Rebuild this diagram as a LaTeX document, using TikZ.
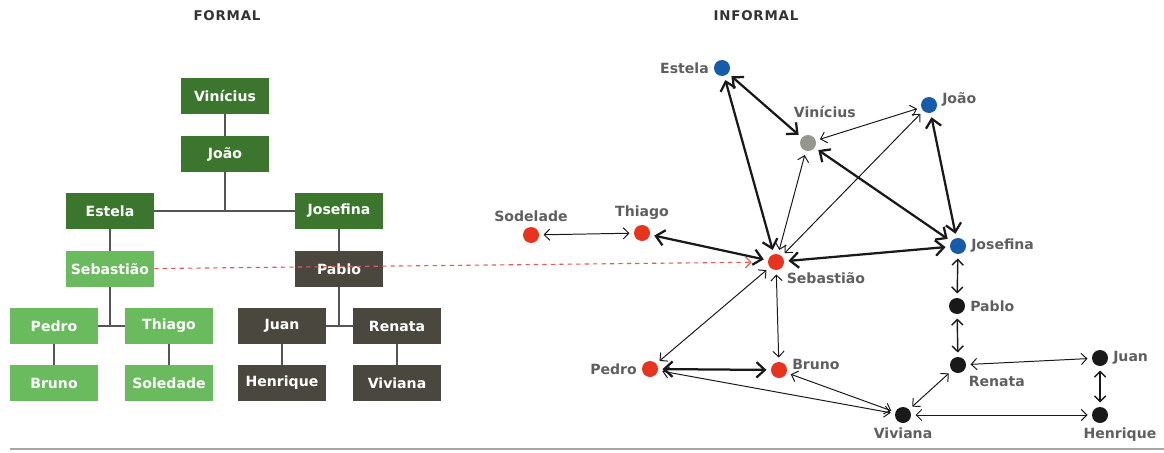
\documentclass[tikz,border=0pt]{standalone}
\usepackage{fontspec}
\setmainfont{DejaVu Sans}
\newfontfamily\titlefont[LetterSpace=6]{DejaVu Sans}
\usetikzlibrary{arrows.meta}

\definecolor{darkgreen}{RGB}{60,118,46}
\definecolor{lightgreen}{RGB}{106,186,94}
\definecolor{darkgrey}{RGB}{74,72,62}
\definecolor{treegrey}{RGB}{85,85,85}
\definecolor{dotred}{RGB}{232,52,30}
\definecolor{dotblue}{RGB}{22,92,170}
\definecolor{dotgrey}{RGB}{150,150,140}
\definecolor{dotblack}{RGB}{25,25,25}
\definecolor{labelgrey}{RGB}{95,95,95}
\definecolor{dashred}{RGB}{228,90,80}

\begin{document}
\begin{tikzpicture}[x=0.025cm, y=-0.025cm]
		\tikzset{box/.style = {minimum width=2.2cm, minimum height=0.9cm, inner sep=0pt, text=white, font=\bfseries\fontsize{10}{12}\selectfont}}
		\tikzset{dkbox/.style = {box, fill=darkgreen}}
		\tikzset{ltbox/.style = {box, fill=lightgreen}}
		\tikzset{gybox/.style = {box, fill=darkgrey}}
		\tikzset{tree/.style = {treegrey, line width=1pt}}
		\tikzset{dot/.style = {circle, minimum size=0.4cm, inner sep=0pt}}
		\tikzset{every label/.style = {text=labelgrey, font=\bfseries\fontsize{10}{12}\selectfont}}
		\tikzset{weak/.style = {{Straight Barb[length=4pt,width=8pt]}-{Straight Barb[length=4pt,width=8pt]}, line width=0.7pt, dotblack, shorten <=3pt, shorten >=3pt}}
		\tikzset{strong/.style = {{Straight Barb[length=6pt,width=11pt]}-{Straight Barb[length=6pt,width=11pt]}, line width=1.6pt, dotblack, shorten <=3pt, shorten >=3pt}}
		\tikzset{title/.style = {text=black!80, font=\titlefont\bfseries\fontsize{9.5}{11}\selectfont}}
		
		\useasboundingbox (0,0) rectangle (1164,453);
		
		% formal chart
		\node[title] (formal) at (227,16) {FORMAL};
		\node[dkbox] (vinF) at (225, 96) {Vinícius};
		\node[dkbox] (joaF) at (225,154) {João};
		\node[dkbox] (estF) at (110,211) {Estela};
		\node[dkbox] (josF) at (339,211) {Josefina};
		\node[ltbox] (sebF) at (110,269) {Sebastião};
		\node[gybox] (pabF) at (339,269) {Pablo};
		\node[ltbox] (pedF) at ( 54,326) {Pedro};
		\node[ltbox] (thiF) at (169,326) {Thiago};
		\node[gybox] (juaF) at (282,326) {Juan};
		\node[gybox] (renF) at (397,326) {Renata};
		\node[ltbox] (bruF) at ( 54,383) {Bruno};
		\node[ltbox] (solF) at (169,383) {Soledade};
		\node[gybox] (henF) at (282,383) {Henrique};
		\node[gybox] (vivF) at (397,383) {Viviana};
		
		\draw[tree] (vinF) -- (joaF);
		\draw[tree] (joaF) -- (joaF |- estF);
		\draw[tree] (estF) -- (josF);
		\draw[tree] (estF) -- (sebF);
		\draw[tree] (josF) -- (pabF);
		\draw[tree] (sebF) -- (sebF |- pedF);
		\draw[tree] (pedF) -- (thiF);
		\draw[tree] (pabF) -- (pabF |- juaF);
		\draw[tree] (juaF) -- (renF);
		\draw[tree] (pedF) -- (bruF);
		\draw[tree] (thiF) -- (solF);
		\draw[tree] (juaF) -- (henF);
		\draw[tree] (renF) -- (vivF);
		
		% informal network
		\node[title] (informal) at (756,16) {INFORMAL};
		\node[dot, fill=dotblue, label=left:Estela] (est) at (722, 68) {};
		\node[dot, fill=dotgrey, label={[xshift=0.42cm, yshift=0.3cm]above:Vinícius}] (vin) at (808,143) {};
		\node[dot, fill=dotblue, label={[yshift=0.15cm]right:João}] (joa) at (929,105) {};
		\node[dot, fill=dotred, label=above:Sodelade] (sod) at (531,235) {};
		\node[dot, fill=dotred, label=above:Thiago] (thi) at (642,233) {};
		\node[dot, fill=dotblue, label=right:Josefina] (jos) at (958,246) {};
		\node[dot, fill=dotred, label=below right:Sebastião] (seb) at (776,262) {};
		\node[dot, fill=dotred, label=left:Pedro] (ped) at (650,369) {};
		\node[dot, fill=dotred, label={[yshift=0.15cm]right:Bruno}] (bru) at (779,370) {};
		\node[dot, fill=dotblack, label=right:Pablo] (pab) at (957,306) {};
		\node[dot, fill=dotblack, label=below right:Renata] (ren) at (958,365) {};
		\node[dot, fill=dotblack, label=right:Juan] (jua) at (1100,358) {};
		\node[dot, fill=dotblack, label=below:Viviana] (viv) at (903,415) {};
		\node[dot, fill=dotblack, label={[xshift=0.5cm]below:Henrique}] (hen) at (1100,415) {};
		
		\draw[strong] (est) to (seb);
		\draw[strong] (est) to (vin);
		\draw[strong] (thi) to (seb);
		\draw[strong] (vin) to (jos);
		\draw[strong] (joa) to (jos);
		\draw[strong] (seb) to (jos);
		\draw[strong] (ped) to (bru);
		\draw[weak] (sod) to (thi);
		\draw[weak] (vin) to (joa);
		\draw[weak] (seb) to (vin);
		\draw[weak] (seb) to (joa);
		\draw[weak] (seb) to (ped);
		\draw[weak] (seb) to (bru);
		\draw[weak] (viv) to (ped);
		\draw[weak] (viv) to (bru);
		\draw[weak, line width=1pt] (jos) to (pab);
		\draw[weak, line width=1pt] (pab) to (ren);
		\draw[weak] (ren) to (jua);
		\draw[weak] (ren) to (viv);
		\draw[weak, line width=1pt] (jua) to (hen);
		\draw[weak] (viv) to (hen);
		
		% link between the two charts
		\draw[dashred, dashed, line width=0.8pt, -{Straight Barb[length=4pt,width=8pt]}, shorten >=0.4cm] (sebF) -- (seb);
		
		\draw[black!35, line width=2pt] (10,449) -- (1164,449);
		\end{tikzpicture}
\end{document}
